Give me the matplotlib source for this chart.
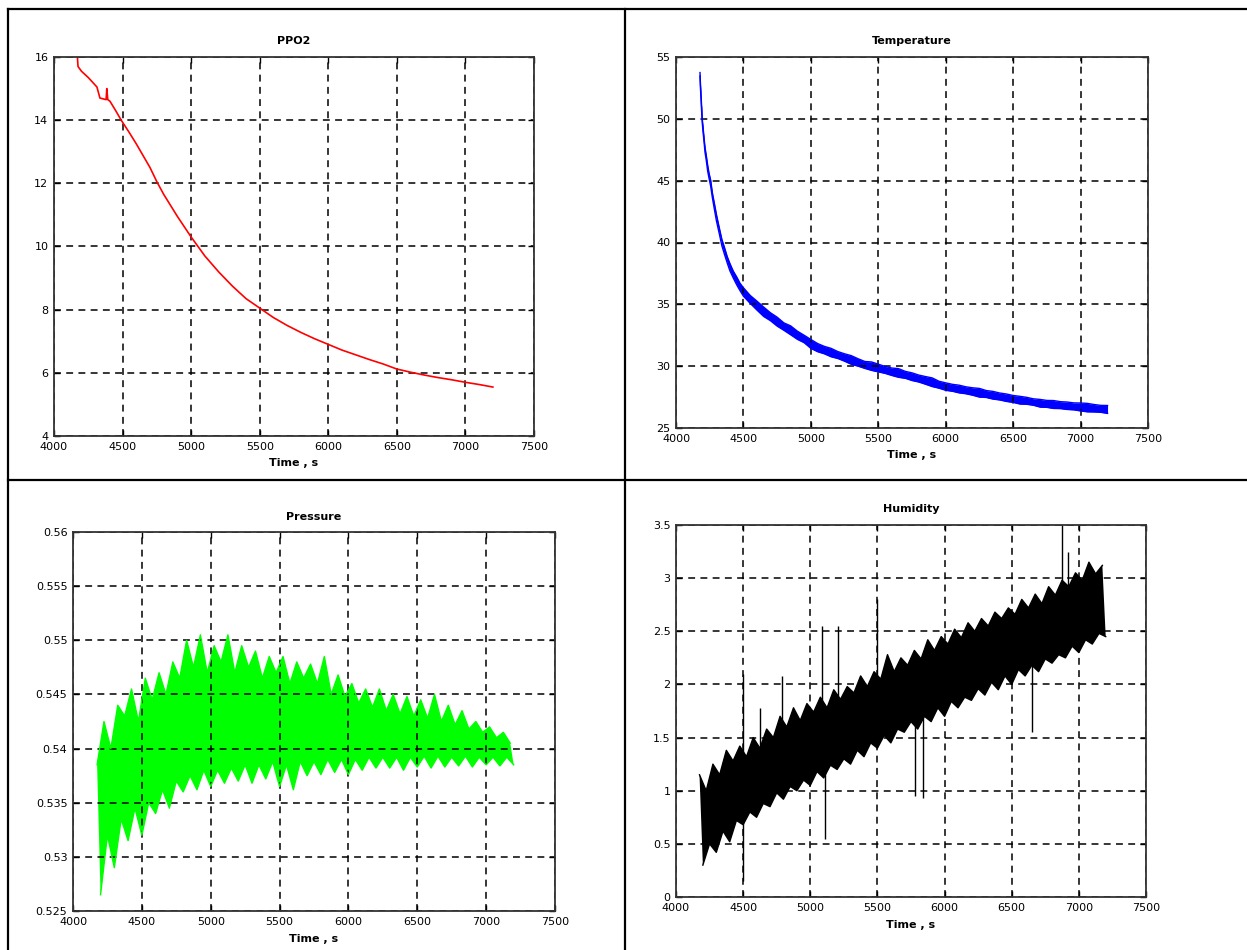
import matplotlib
matplotlib.use("Agg")
import matplotlib.pyplot as plt
from matplotlib.lines import Line2D
import numpy as np

W, H = 1247, 950

# ---- PPO2 (smooth trace)
ppo2_t = [4170, 4175, 4200, 4250, 4313, 4335, 4380, 4385, 4392, 4408, 4450, 4490,
          4550, 4600, 4700, 4750, 4800, 4900, 5000, 5050, 5100, 5200, 5300, 5400,
          5500, 5600, 5700, 5800, 5900, 6000, 6100, 6200, 6300, 6400, 6500, 6600,
          6700, 6800, 6900, 7000, 7100, 7200]
ppo2_v = [16.05, 15.7, 15.55, 15.35, 15.05, 14.7, 14.65, 15.0, 14.65, 14.6, 14.3, 14.0,
          13.6, 13.25, 12.5, 12.05, 11.65, 10.95, 10.3, 10.0, 9.7, 9.2, 8.75, 8.35,
          8.05, 7.75, 7.5, 7.28, 7.08, 6.9, 6.72, 6.57, 6.42, 6.28, 6.12, 6.02,
          5.93, 5.85, 5.78, 5.7, 5.63, 5.55]

# ---- Temperature (mean level and noise half-width)
temp_t = [4178, 4182, 4186, 4190, 4195, 4200, 4208, 4215, 4225, 4235, 4245, 4257,
          4270, 4285, 4300, 4320, 4340, 4360, 4380, 4400, 4425, 4450, 4475, 4500] \
         + list(range(4550, 7201, 50))
temp_mid = [53.6, 52.5, 51.7, 50.8, 49.8, 49.2, 48.3, 47.5, 46.8, 46.0, 45.4, 44.8,
            43.8, 42.9, 42.0, 41.0, 40.0, 39.3, 38.6, 38.0, 37.4, 36.9, 36.4, 36.0,
            35.4, 34.9, 34.4, 34.0, 33.6, 33.2, 32.9, 32.5, 32.2, 31.8,
            31.5, 31.3, 31.1, 30.9, 30.7, 30.5, 30.3, 30.1, 30.0, 29.85,
            29.7, 29.55, 29.45, 29.3, 29.15, 29.0, 28.85, 28.7, 28.5, 28.35,
            28.25, 28.15, 28.05, 27.95, 27.85, 27.75, 27.65, 27.55, 27.45, 27.35,
            27.25, 27.2, 27.1, 27.0, 26.95, 26.9, 26.85, 26.8, 26.75, 26.7,
            26.65, 26.6, 26.55, 26.5]
temp_spread = [0.14, 0.16, 0.14, 0.2, 0.16, 0.2, 0.16, 0.2, 0.2, 0.24, 0.2, 0.24,
               0.2, 0.24, 0.26, 0.24, 0.26, 0.28, 0.26, 0.3, 0.28, 0.32, 0.3, 0.34,
               0.32, 0.36, 0.38, 0.32, 0.36, 0.3, 0.36, 0.33, 0.3, 0.36,
               0.33, 0.3, 0.34, 0.28, 0.3, 0.35, 0.3, 0.28, 0.34, 0.31,
               0.28, 0.3, 0.35, 0.28, 0.31, 0.28, 0.31, 0.35, 0.28, 0.3,
               0.28, 0.31, 0.28, 0.3, 0.35, 0.28, 0.31, 0.28, 0.3, 0.28,
               0.31, 0.28, 0.26, 0.31, 0.28, 0.32, 0.28, 0.3, 0.28, 0.32,
               0.34, 0.3, 0.28, 0.32]

# ---- Pressure: noise peaks every 50 s from 4175, troughs in between
press_hi = [0.5385, 0.5425, 0.5400, 0.5440, 0.5430, 0.5455, 0.5425, 0.5465, 0.5445, 0.5470,
            0.5450, 0.5480, 0.5465, 0.5500, 0.5475, 0.5505, 0.5470, 0.5495, 0.5480, 0.5505,
            0.5470, 0.5495, 0.5475, 0.5490, 0.5465, 0.5485, 0.5470, 0.5485, 0.5460, 0.5480,
            0.5465, 0.5478, 0.5460, 0.5485, 0.5450, 0.5468, 0.5448, 0.5460, 0.5442, 0.5455,
            0.5438, 0.5455, 0.5435, 0.5450, 0.5432, 0.5448, 0.5430, 0.5445, 0.5428, 0.5450,
            0.5425, 0.5440, 0.5422, 0.5435, 0.5418, 0.5425, 0.5415, 0.5420, 0.5410, 0.5415,
            0.5405]
press_lo = [0.5265, 0.5320, 0.5290, 0.5335, 0.5315, 0.5345, 0.5320, 0.5350, 0.5340, 0.5362,
            0.5345, 0.5370, 0.5360, 0.5375, 0.5362, 0.5380, 0.5365, 0.5380, 0.5368, 0.5382,
            0.5370, 0.5385, 0.5368, 0.5385, 0.5372, 0.5388, 0.5365, 0.5385, 0.5362, 0.5388,
            0.5375, 0.5388, 0.5376, 0.5390, 0.5378, 0.5390, 0.5376, 0.5390, 0.5380, 0.5392,
            0.5382, 0.5392, 0.5382, 0.5392, 0.5380, 0.5392, 0.5383, 0.5393, 0.5382, 0.5393,
            0.5383, 0.5392, 0.5384, 0.5393, 0.5383, 0.5392, 0.5385, 0.5392, 0.5384, 0.5392,
            0.5385]

# ---- Humidity: same layout, plus isolated spikes
hum_hi = [1.15, 1.00, 1.25, 1.15, 1.38, 1.28, 1.42, 1.32, 1.50, 1.40,
          1.58, 1.50, 1.70, 1.60, 1.78, 1.66, 1.82, 1.74, 1.88, 1.78,
          1.95, 1.86, 1.98, 1.92, 2.08, 1.98, 2.12, 2.05, 2.28, 2.12,
          2.25, 2.18, 2.32, 2.24, 2.42, 2.32, 2.45, 2.38, 2.52, 2.44,
          2.58, 2.50, 2.62, 2.55, 2.68, 2.62, 2.72, 2.66, 2.80, 2.72,
          2.85, 2.76, 2.92, 2.84, 2.98, 2.92, 3.05, 2.98, 3.15, 3.04,
          3.12]
hum_lo = [0.30, 0.50, 0.42, 0.62, 0.52, 0.72, 0.68, 0.80, 0.75, 0.88,
          0.85, 0.98, 0.92, 1.04, 1.00, 1.10, 1.05, 1.18, 1.12, 1.24,
          1.20, 1.30, 1.25, 1.38, 1.32, 1.45, 1.40, 1.52, 1.45, 1.58,
          1.55, 1.65, 1.58, 1.70, 1.65, 1.78, 1.70, 1.84, 1.78, 1.88,
          1.85, 1.96, 1.90, 2.02, 1.95, 2.08, 2.00, 2.14, 2.08, 2.18,
          2.12, 2.24, 2.20, 2.28, 2.25, 2.36, 2.30, 2.42, 2.38, 2.48,
          2.45]
hum_spike_t = [4500, 4500, 4625, 4790, 5090, 5110, 5205, 5495, 5780, 5840, 6650, 6875, 6920]
hum_spike_base = [1.0, 1.0, 1.2, 1.4, 1.6, 1.3, 1.7, 1.9, 1.8, 1.8, 2.3, 2.7, 2.8]
hum_spike_tip = [2.10, 0.15, 1.78, 2.08, 2.55, 0.55, 2.55, 2.80, 0.95, 0.93, 1.55, 3.50, 3.25]

TICK_FS = 8


def band(ax, t0, step, hi, lo, color):
    """Fill a noisy signal's envelope: peaks at t0 + k*step, troughs half a step later."""
    t_hi = t0 + step * np.arange(len(hi))
    t_lo = t_hi + step / 2
    ax.fill(np.r_[t_hi, t_lo[::-1]], np.r_[hi, lo[::-1]], color=color, linewidth=0)
    ax.plot(t_hi, hi, color=color, linewidth=1)
    ax.plot(t_lo, lo, color=color, linewidth=1)


def make_axes(left, top, right, bottom):
    return fig.add_axes([left / W, 1 - bottom / H, (right - left) / W, (bottom - top) / H])


def style(ax, title, ylim, yticks, ylabels):
    ax.set_xlim(4000, 7500)
    ax.set_xticks(range(4000, 7501, 500))
    ax.set_ylim(*ylim)
    ax.set_yticks(yticks)
    ax.set_yticklabels(ylabels)
    ax.grid(True, color="k", linestyle=(0, (4.5, 3.5)), linewidth=1.1)
    ax.tick_params(direction="in", top=True, right=True, length=4, width=1,
                   labelsize=TICK_FS, pad=4)
    for s in ax.spines.values():
        s.set_linewidth(1.3)
        s.set_color("#333333")
    ax.set_title(title, fontsize=TICK_FS, fontweight="bold", pad=9)
    ax.set_xlabel("Time , s", fontsize=TICK_FS, fontweight="bold", labelpad=5)


fig = plt.figure(figsize=(W / 100, H / 100), dpi=100)

# table borders
for x0, y0, x1, y1 in [(8, 9, W, 9), (8, 9, 8, H), (625, 9, 625, H), (8, 480, W, 480)]:
    fig.add_artist(Line2D([x0 / W, x1 / W], [1 - y0 / H, 1 - y1 / H],
                          transform=fig.transFigure, color="k", linewidth=1.6))

# PPO2
ax1 = make_axes(54, 57, 534, 436)
ax1.plot(ppo2_t, ppo2_v, color="red", linewidth=1.2)
style(ax1, "PPO2", (4, 16), range(4, 17, 2), [str(v) for v in range(4, 17, 2)])

# Temperature
ax2 = make_axes(676, 57, 1148, 428)
mid = np.array(temp_mid)
spr = np.array(temp_spread)
ax2.fill_between(temp_t, mid - spr, mid + spr, color="blue", linewidth=0)
ax2.plot(temp_t, mid + spr, color="blue", linewidth=1)
ax2.plot(temp_t, mid - spr, color="blue", linewidth=1)
style(ax2, "Temperature", (25, 55), range(25, 56, 5), [str(v) for v in range(25, 56, 5)])

# Pressure
ax3 = make_axes(73, 532, 555, 911)
band(ax3, 4175, 50, np.array(press_hi), np.array(press_lo), (0, 1, 0))
p_ticks = [0.525, 0.53, 0.535, 0.54, 0.545, 0.55, 0.555, 0.56]
style(ax3, "Pressure", (0.525, 0.56), p_ticks, [f"{v:g}" for v in p_ticks])

# Humidity
ax4 = make_axes(676, 525, 1146, 897)
band(ax4, 4175, 50, np.array(hum_hi), np.array(hum_lo), "k")
ax4.vlines(hum_spike_t, hum_spike_base, hum_spike_tip, color="k", linewidth=1)
h_ticks = [0, 0.5, 1, 1.5, 2, 2.5, 3, 3.5]
style(ax4, "Humidity", (0, 3.5), h_ticks, [f"{v:g}" for v in h_ticks])

fig.savefig("out.png", dpi=100)
